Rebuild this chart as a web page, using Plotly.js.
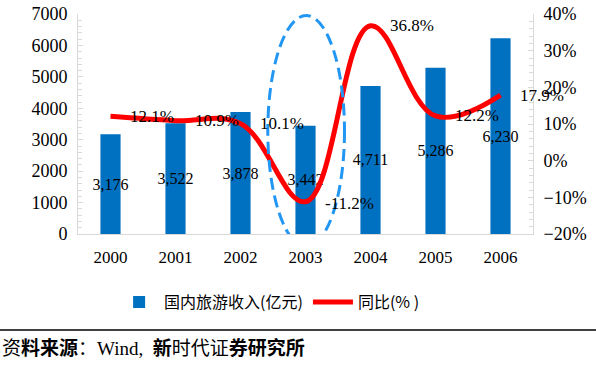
<!DOCTYPE html>
<html><head><meta charset="utf-8">
<script src="https://cdn.plot.ly/plotly-3.0.1.min.js"></script>
<style>body{margin:0;background:#fff}#c{width:596px;height:365px}</style>
</head><body><div id="c"></div>
<script>
const years = ['2000','2001','2002','2003','2004','2005','2006'];
const income = [3176, 3522, 3878, 3442, 4711, 5286, 6230];
const growth = [12.1, 10.9, 10.1, -11.2, 36.8, 12.2, 17.9];
const incomeName = '国内旅游收入(亿元)';
const growthName = '同比(% )';
const source = '资<b>料来源</b>：Wind,  <b>新</b>时代证<b>券研究所</b>';

const serif = '"Liberation Serif", "Times New Roman", serif';

const L = 78, R = 63, T = 14, B = 131, W = 596, H = 365;
const pw = W - L - R, ph = H - T - B;

const bars = {
  type: 'bar', x: years, y: income, name: incomeName,
  marker: {color: '#0070C0'}, width: 0.31,
  text: income.map(v => v.toLocaleString('en-US')),
  textposition: 'inside', insidetextanchor: 'middle', textangle: 0,
  textfont: {family: serif, size: 16, color: '#000'},
  cliponaxis: false, constraintext: 'none'
};
const line = {
  type: 'scatter', mode: 'lines', x: years, y: growth, yaxis: 'y2',
  name: growthName,
  line: {color: '#FF0000', width: 5, shape: 'spline', smoothing: 1.1}
};

const lineLabels = years.map((y, i) => ({
  xref: 'x', yref: 'y2', x: i, y: growth[i], xanchor: 'left', yanchor: 'middle',
  xshift: 17, yshift: i === 3 ? -2 : 0, showarrow: false,
  text: growth[i].toFixed(1) + '%',
  font: {family: serif, size: 17, color: '#000'}
}));

const layout = {
  width: W, height: H,
  margin: {l: L, r: R, t: T, b: B},
  paper_bgcolor: '#fff', plot_bgcolor: '#fff',
  showlegend: true,
  font: {family: serif, size: 16, color: '#000'},
  xaxis: {type: 'category', range: [-0.5, 6.5], showline: true, linecolor: '#d9d9d9', ticks: '',
          showgrid: false, tickfont: {family: serif, size: 17, color: '#000'}, ticklabelstandoff: 8},
  yaxis: {range: [0, 7000], dtick: 1000, showgrid: false, zeroline: false,
          showline: true, linecolor: '#d9d9d9', ticks: 'inside', ticklen: 5, tickcolor: '#d9d9d9',
          minor: {ticks: 'inside', ticklen: 4, tickcolor: '#d9d9d9', dtick: 200},
          tickfont: {family: serif, size: 18, color: '#000'}, ticklabelstandoff: 6},
  yaxis2: {range: [-20, 40], dtick: 10, overlaying: 'y', side: 'right', showgrid: false,
           zeroline: false, showline: true, linecolor: '#d9d9d9', ticks: 'inside', ticklen: 5,
           tickcolor: '#d9d9d9', minor: {ticks: 'inside', ticklen: 4, tickcolor: '#d9d9d9', dtick: 2},
           ticksuffix: '%', tickfont: {family: serif, size: 18, color: '#000'}, ticklabelstandoff: 6},
  legend: {orientation: 'h', x: 0.42, xanchor: 'center', y: -0.31, yanchor: 'middle',
           font: {family: '"Noto Sans CJK SC", sans-serif', size: 16}, itemwidth: 40, tracegroupgap: 0},
  shapes: [
    {type: 'circle', xref: 'x', yref: 'y', x0: 2.42, x1: 3.6, y0: -400, y1: 6950,
     line: {color: '#2196F3', width: 3, dash: '12px,6px'}, layer: 'above'},
    {type: 'line', xref: 'paper', yref: 'paper', x0: -L/pw, x1: (W-L)/pw,
     y0: -(330-T-ph)/ph, y1: -(330-T-ph)/ph,
     line: {color: '#000', width: 1.5}}
  ],
  annotations: lineLabels.concat([
    {xref: 'paper', yref: 'paper', x: -L/pw + 0.001, y: -(348-T-ph)/ph, xanchor: 'left', yanchor: 'middle',
     text: source, showarrow: false, font: {family: '"Liberation Serif", "Noto Sans CJK SC", serif', size: 19, color: '#000'}}
  ])
};
Plotly.newPlot('c', [bars, line], layout, {displayModeBar: false, staticPlot: true});
</script></body></html>
